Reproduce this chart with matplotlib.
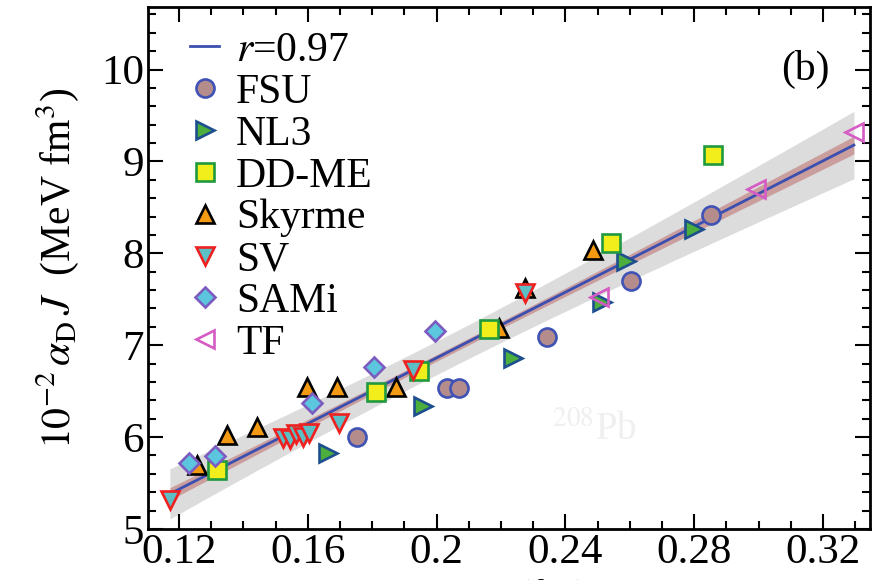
import numpy as np
import matplotlib
matplotlib.use("Agg")
import matplotlib.pyplot as plt
from matplotlib.ticker import MultipleLocator, FixedLocator

plt.rcParams['font.family'] = ['Liberation Serif', 'DejaVu Serif']
plt.rcParams['mathtext.fontset'] = 'stix'

# ---- data ----
fsu_x = [0.1752, 0.2031, 0.2070, 0.2344, 0.2603, 0.2853]
fsu_y = [6.00, 6.53, 6.53, 7.09, 7.70, 8.42]

nl3_x = [0.1662, 0.1957, 0.2236, 0.2515, 0.2589, 0.2800]
nl3_y = [5.83, 6.34, 6.86, 7.47, 7.92, 8.27]

ddme_x = [0.1318, 0.1811, 0.1945, 0.2164, 0.2543, 0.2859]
ddme_y = [5.64, 6.49, 6.72, 7.18, 8.11, 9.07]

sky_x = [0.1256, 0.1349, 0.1442, 0.1597, 0.1690, 0.1873, 0.2195, 0.2276, 0.2487]
sky_y = [5.70, 6.02, 6.11, 6.55, 6.54, 6.55, 7.19, 7.62, 8.04]

sv_x = [0.1172, 0.1522, 0.1545, 0.1565, 0.1585, 0.1605, 0.1696, 0.1926, 0.2276]
sv_y = [5.32, 5.99, 5.98, 6.03, 6.00, 6.05, 6.15, 6.73, 7.57]

sami_x = [0.1231, 0.1312, 0.1612, 0.1805, 0.1994]
sami_y = [5.72, 5.79, 6.37, 6.76, 7.16]

tf_x = [0.2505, 0.2992, 0.3296]
tf_y = [7.53, 8.70, 9.32]

x_ticks = [0.12, 0.16, 0.2, 0.24, 0.28, 0.32]
x_ticklabels = ['0.12', '0.16', '0.2', '0.24', '0.28', '0.32']
y_ticks = [5, 6, 7, 8, 9, 10]
corr_label = r'$r$=0.97'

# ---- figure ----
fig = plt.figure(figsize=(8.82, 5.80), dpi=100)
ax = fig.add_axes([0.1678, 0.0879, 0.8186, 0.9000])

# regression from all points
all_x = np.array(fsu_x + nl3_x + ddme_x + sky_x + sv_x + sami_x + tf_x)
all_y = np.array(fsu_y + nl3_y + ddme_y + sky_y + sv_y + sami_y + tf_y)
b, a = np.polyfit(all_x, all_y, 1)
n = len(all_x)
res = all_y - (a + b * all_x)
s = np.sqrt(np.sum(res**2) / (n - 2))
xm = all_x.mean()
sxx = np.sum((all_x - xm)**2)
xx = np.linspace(all_x.min(), all_x.max(), 200)
yy = a + b * xx
se = s * np.sqrt(1.0 / n + (xx - xm)**2 / sxx)
gray_half = np.sqrt((3.2 * se)**2 + 0.13**2)
ax.fill_between(xx, yy - gray_half, yy + gray_half, color='#dcdcdc', lw=0, zorder=1)
ax.fill_between(xx, yy - 0.9 * se, yy + 0.9 * se, color='#c89494', lw=0, alpha=0.85, zorder=2)
ax.plot(xx, yy, color='#3a4fb0', lw=2, zorder=3, label=corr_label)

ms = 13
ew = 1.9
ax.plot(fsu_x, fsu_y, 'o', ms=ms, mfc='#b48c8c', mec='#3f52b5', mew=ew, ls='none', zorder=5, label='FSU')
ax.plot(nl3_x, nl3_y, '>', ms=ms, mfc='#4cae3c', mec='#1d4f8f', mew=ew, ls='none', zorder=5, label='NL3')
ax.plot(ddme_x, ddme_y, 's', ms=ms * 0.95, mfc='#f2ee1c', mec='#1f9a3e', mew=ew, ls='none', zorder=5, label='DD-ME')
ax.plot(sky_x, sky_y, '^', ms=ms, mfc='#f39a12', mec='black', mew=ew, ls='none', zorder=4, label='Skyrme')
ax.plot(sv_x, sv_y, 'v', ms=ms, mfc='#5cbfc6', mec='#ee2020', mew=ew, ls='none', zorder=6, label='SV')
ax.plot(sami_x, sami_y, 'D', ms=ms * 0.8, mfc='#5cc6df', mec='#7d5cc0', mew=ew, ls='none', zorder=6, label='SAMi')
ax.plot(tf_x, tf_y, '<', ms=ms, mfc='none', mec='#d45cc4', mew=ew, ls='none', zorder=6, label='TF')

ax.set_xlim(0.1104, 0.3346)
ax.set_ylim(5.0, 10.68)

ax.xaxis.set_major_locator(FixedLocator(x_ticks))
ax.set_xticklabels(x_ticklabels)
ax.xaxis.set_minor_locator(MultipleLocator(0.01))
ax.yaxis.set_major_locator(FixedLocator(y_ticks))
ax.yaxis.set_minor_locator(MultipleLocator(0.2))
ax.tick_params(which='both', direction='in', top=True, right=True, width=1.5, labelsize=31)
ax.tick_params(which='major', length=11, pad=3)
ax.tick_params(which='minor', length=6)
for sp in ax.spines.values():
    sp.set_linewidth(2)

ax.set_ylabel(r'$10^{-2}\,\alpha_{\rm D}\,J$  (MeV fm$^3$)', fontsize=30, labelpad=14)
ax.set_xlabel(r'$\Delta r_{\rm np}$ (fm)', fontsize=30, labelpad=4)

ax.text(0.3145, 10.0, '(b)', fontsize=30, ha='center', va='center')
ax.text(0.249, 6.07, r'$^{208}$Pb', fontsize=28, color='#efefef', ha='center', va='center', zorder=0)

leg = ax.legend(loc='upper left', bbox_to_anchor=(0.035, 0.985), frameon=False, fontsize=30,
                handlelength=0.7, handletextpad=0.4, labelspacing=0.08, borderaxespad=0.2,
                borderpad=0.2)

fig.savefig('out.png', dpi=100)
